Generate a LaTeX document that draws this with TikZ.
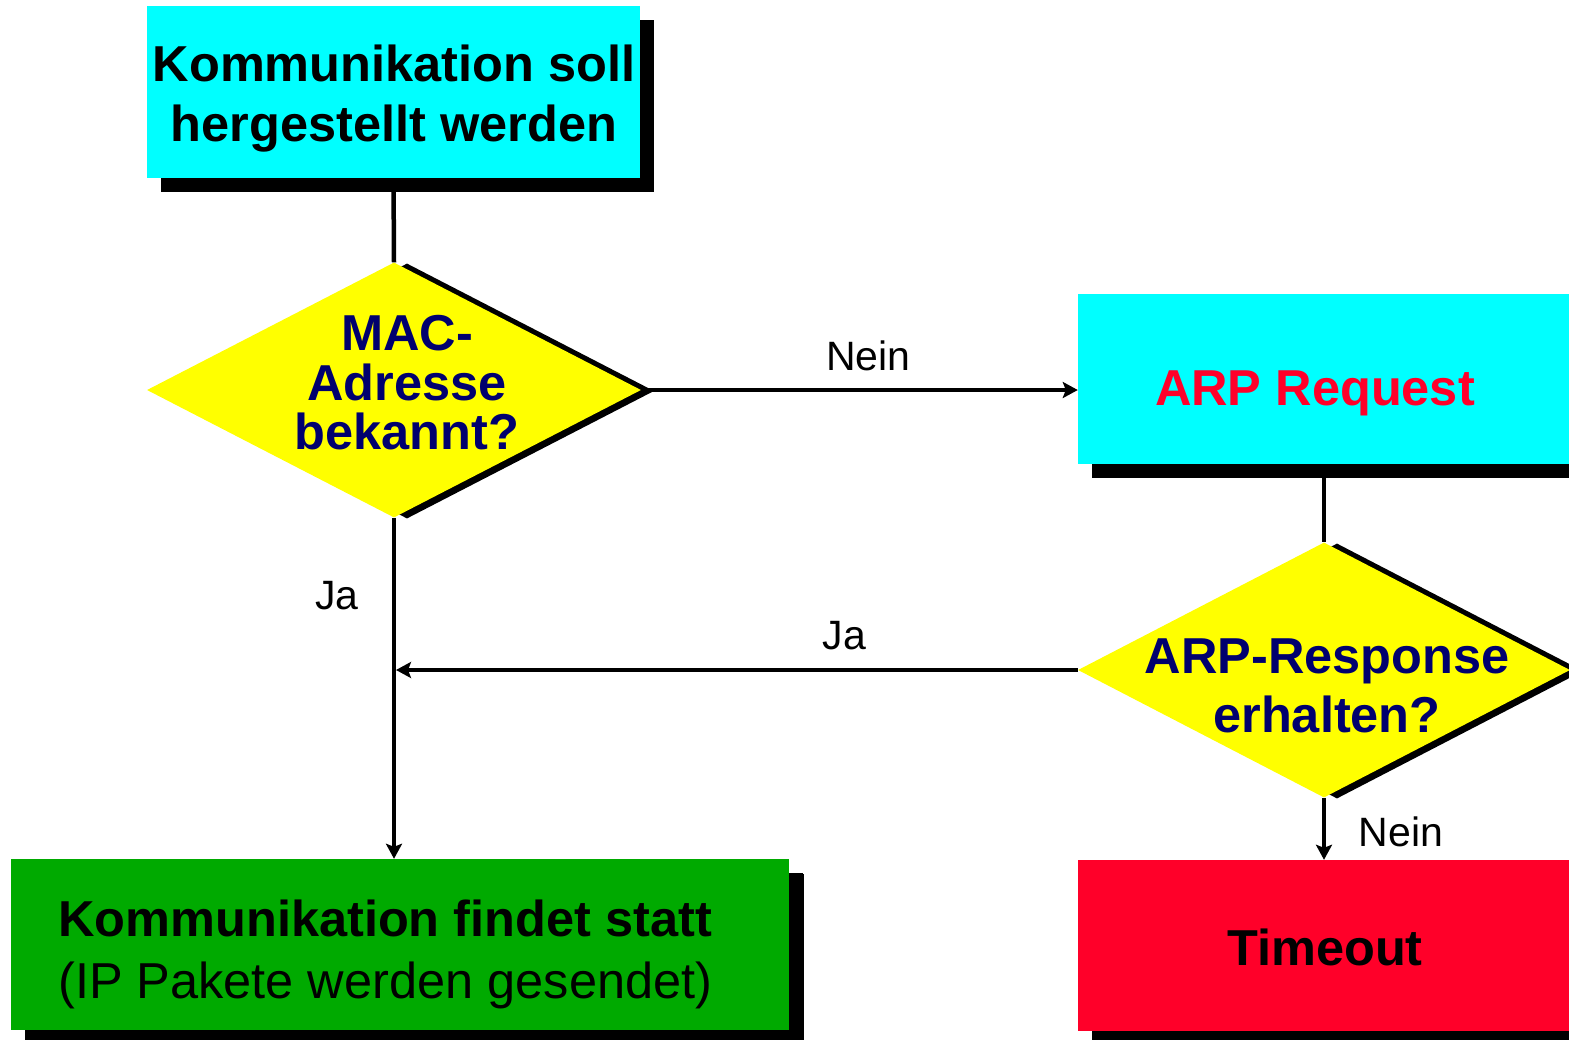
\documentclass[tikz,border=0pt]{standalone}
\usepackage{fontspec}
\setmainfont{Liberation Sans}
\usetikzlibrary{shapes.geometric,shadows,arrows.meta,calc}
\definecolor{boxcyan}{RGB}{0,255,255}
\definecolor{diayellow}{RGB}{255,255,0}
\definecolor{okgreen}{RGB}{0,170,0}
\definecolor{alertred}{RGB}{255,0,41}
\definecolor{qnavy}{RGB}{0,0,110}
\tikzset{
  flowbox/.style={rectangle, inner sep=0pt, draw=none,
    drop shadow={shadow xshift=14pt, shadow yshift=-14pt, opacity=1, fill=black}},
  decision/.style={diamond, inner sep=0pt, draw=none, fill=diayellow,
    drop shadow={shadow xshift=13pt, shadow yshift=-1pt, opacity=1, fill=black}},
  bigtext/.style={inner sep=0pt, font=\bfseries\fontsize{50.5}{60}\selectfont, align=center},
  answer/.style={inner sep=0pt, font=\fontsize{41}{48}\selectfont},
  flow/.style={line width=4.5pt},
  flowarrow/.style={flow, -{Stealth[length=15pt,width=16pt,inset=3pt]}},
}
\begin{document}
\begin{tikzpicture}[x=1pt, y=-1pt]
  \path[use as bounding box] (0,0) rectangle (1569,1039);
  \clip (0,0) rectangle (1569,1039);

  % boxes and decisions
  \node[flowbox, fill=boxcyan, minimum width=493pt, minimum height=172pt] (start) at (393.5,92) {};
  \node[decision, minimum width=494pt, minimum height=255pt] (mac) at (394,390) {};
  \node[flowbox, fill=boxcyan, minimum width=520pt, minimum height=170pt] (arp) at (1338,379) {};
  \node[decision, minimum width=492pt, minimum height=255pt] (resp) at (1324,670) {};
  \node[flowbox, fill=okgreen, minimum width=778pt, minimum height=171pt,
    drop shadow={shadow xshift=15pt, shadow yshift=-15pt, opacity=1, fill=black}] (comm) at (400,944.5) {};
  \node[flowbox, fill=alertred, minimum width=520pt, minimum height=171pt] (timeout) at (1338,945.5) {};

  % texts
  \node[bigtext] (starttext) at (394,98.5) {Kommunikation soll\\hergestellt werden};
  \node[bigtext, text=qnavy, font=\bfseries\fontsize{50.5}{49.5}\selectfont] (mactext) at (407,383) {MAC-\\Adresse\\bekannt?};
  \node[bigtext, text=alertred] (arptext) at (1315,393) {ARP Request};
  \node[bigtext, text=qnavy, font=\bfseries\fontsize{50.5}{59}\selectfont] (resptext) at (1327,685.5) {ARP-Response\\erhalten?};
  \node[inner sep=0pt, anchor=west, align=left, font=\fontsize{50.5}{62}\selectfont] (commtext) at (58,954)
    {\textbf{Kommunikation findet statt}\\(IP Pakete werden gesendet)};
  \node[bigtext] (timeouttext) at (1325,947) {Timeout};

  % connectors
  \draw[flow] (start.south) -- (mac.north);
  \draw[flowarrow] (mac.east) -- (mac.east -| arp.west)
    node[answer, pos=0.52, above=17pt] (nein1) {Nein};
  \draw[flow] (resp.north |- arp.south) -- (resp.north);
  \coordinate (join) at ($(mac.south |- resp.west)+(2,0)$);
  \draw[flowarrow] (resp.west) -- (join);
  \node[answer] (ja2) at (844.5,636) {Ja};
  \draw[flowarrow] (mac.south) -- (mac.south |- comm.north);
  \node[answer] (ja1) at (337,596) {Ja};
  \draw[flowarrow] (resp.south) -- (resp.south |- timeout.north);
  \node[answer] (nein2) at (1401,832) {Nein};
\end{tikzpicture}
\end{document}
